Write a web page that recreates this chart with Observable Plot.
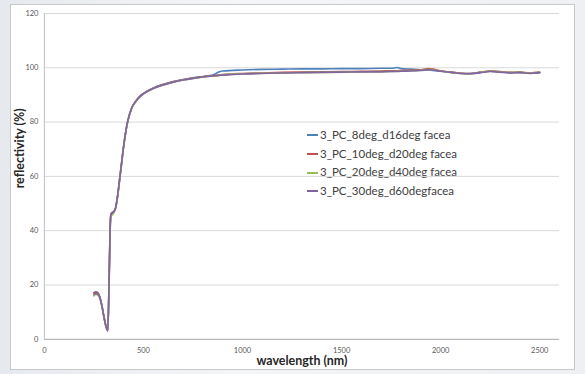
<!DOCTYPE html>
<html>
<head>
<meta charset="utf-8">
<script src="https://cdn.jsdelivr.net/npm/d3@7"></script>
<script src="https://cdn.jsdelivr.net/npm/@observablehq/plot@0.6"></script>
<style>
  html, body { margin: 0; padding: 0; }
  body { width: 585px; height: 374px; background: linear-gradient(90deg, #e6e9ee 0%, #f4f5f7 40%, #eef0f3 100%); position: relative; overflow: hidden; font-family: Lato, "Open Sans", sans-serif; }
  #frame { position: absolute; left: 10px; top: 4px; width: 565px; height: 366px; background: #fff; border: 1px solid #c8c8c8; box-sizing: border-box; }
  #frame svg { position: absolute; left: -1px; top: -1px; }
  #legend { position: absolute; left: 296px; top: 121px; font-family: Lato, sans-serif; font-size: 11.5px; color: #404040; line-height: 18.7px; }
  #legend .row { display: flex; align-items: center; white-space: pre; }
  #legend .sw { width: 11px; height: 2px; margin-right: 2px; }
</style>
</head>
<body>
<div id="frame"><div id="legend"></div></div>
<script>
const seriesNames = ["3_PC_8deg_d16deg facea", "3_PC_10deg_d20deg facea", "3_PC_20deg_d40deg facea", "3_PC_30deg_d60degfacea"];
const seriesColors = ["#4f81bd", "#c0504d", "#9bbb59", "#8064a2"];

const wavelength = [250,260,270,280,290,300,310,320,326,332,336,340,350,360,370,380,390,400,420,440,460,480,500,550,600,650,700,750,800,850,880,900,1000,1100,1200,1300,1400,1500,1600,1700,1750,1780,1800,1850,1900,1940,1960,2000,2050,2100,2150,2200,2250,2300,2350,2400,2450,2500];

const blue =   [17.2,17.5,17.1,15.6,12.6,8.6,5.1,3.3,20,42,46.2,46.6,47.1,48.6,53,59,65,71,80,85,87.6,89.4,90.6,92.6,93.9,94.9,95.7,96.3,96.8,97.3,98.4,98.8,99.2,99.4,99.5,99.6,99.6,99.7,99.7,99.8,99.8,100.1,99.7,99.5,99.3,99.2,99.0,98.7,98.4,98.0,97.9,98.3,98.7,98.5,98.2,98.3,98.0,98.2];
const red =    [17.0,17.3,17.0,15.5,12.5,8.5,5.0,3.2,19,41,46.0,46.5,47.0,48.5,53,59,65,71,80,85,87.5,89.3,90.5,92.5,93.8,94.8,95.6,96.2,96.7,97.1,97.3,97.5,97.9,98.1,98.3,98.4,98.5,98.6,98.7,98.8,98.9,98.9,99.0,99.1,99.3,99.7,99.5,98.9,98.4,98.0,97.9,98.4,98.8,98.6,98.3,98.4,98.1,98.4];
const green =  [16.0,16.5,16.3,15.0,12.2,8.4,5.0,3.2,18,40,45.2,45.6,46.6,48.3,52.8,58.9,65,71,80,85,87.4,89.2,90.4,92.4,93.7,94.7,95.5,96.1,96.6,97.0,97.2,97.4,97.8,98.0,98.1,98.2,98.3,98.4,98.5,98.6,98.6,98.7,98.7,98.9,99.1,99.4,99.3,98.8,98.3,97.9,97.8,98.3,98.7,98.5,98.2,98.3,98.0,98.3];
const purple = [16.5,16.9,16.7,15.3,12.4,8.5,5.0,3.1,19,41,45.8,46.3,46.9,48.5,53.1,59.1,65.2,71.2,80.2,85.1,87.5,89.2,90.4,92.4,93.7,94.7,95.5,96.1,96.6,97.0,97.2,97.3,97.7,97.9,98.1,98.2,98.3,98.4,98.5,98.5,98.6,98.6,98.7,98.8,99.0,99.3,99.2,98.7,98.3,97.9,97.8,98.2,98.6,98.4,98.1,98.2,97.9,98.2];

const xTicks = [0, 500, 1000, 1500, 2000, 2500];
const yTicks = [0, 20, 40, 60, 80, 100, 120];

const seriesValues = [blue, red, green, purple];
const rows = [];
seriesValues.forEach((vals, i) => vals.forEach((v, j) => rows.push({series: seriesNames[i], wl: wavelength[j], r: v})));

const chart = Plot.plot({
  width: 565,
  height: 366,
  marginLeft: 34,
  marginRight: 14,
  marginTop: 9,
  marginBottom: 30,
  style: {fontFamily: "Lato, sans-serif", background: "transparent", overflow: "visible"},
  x: {domain: [0, 2600]},
  y: {domain: [0, 120]},
  color: {domain: seriesNames, range: seriesColors},
  marks: [
    Plot.ruleY(yTicks.filter(d => d > 0), {stroke: "#d9d9d9", strokeWidth: 1}),
    Plot.ruleX([0], {stroke: "#bfbfbf"}),
    Plot.ruleY([0], {stroke: "#a6a6a6"}),
    Plot.line(rows, {x: "wl", y: "r", z: "series", stroke: "series", strokeWidth: 1.6, curve: "monotone-x"}),
    Plot.axisX({ticks: xTicks, tickFormat: d3.format("d"), tickSize: 0, tickPadding: 8, fontSize: 7.5, fill: "#595959", label: null}),
    Plot.axisY({ticks: yTicks, tickFormat: d3.format("d"), tickSize: 0, tickPadding: 6, fontSize: 7.5, fill: "#595959", label: null}),
    Plot.text(["wavelength (nm)"], {frameAnchor: "bottom", dy: 26, fontSize: 12.5, fontWeight: "bold", fill: "#262626"}),
    Plot.text(["reflectivity (%)"], {frameAnchor: "left", dx: -24, dy: 12, rotate: -90, fontSize: 12.5, fontWeight: "bold", fill: "#262626"})
  ]
});
document.getElementById("frame").appendChild(chart);

const legend = document.getElementById("legend");
seriesNames.forEach((name, i) => {
  const row = document.createElement("div");
  row.className = "row";
  const sw = document.createElement("span");
  sw.className = "sw";
  sw.style.background = seriesColors[i];
  row.appendChild(sw);
  row.appendChild(document.createTextNode(name));
  legend.appendChild(row);
});
</script>
</body>
</html>
